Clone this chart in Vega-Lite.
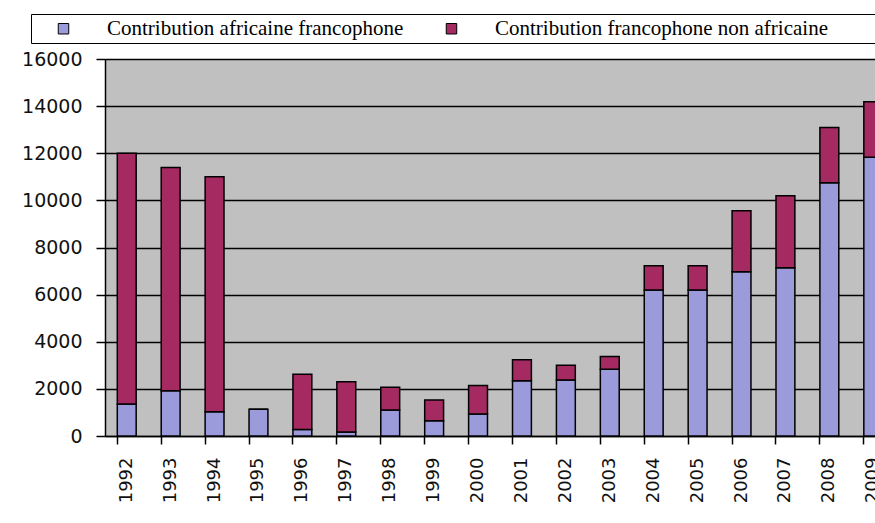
{
  "$schema": "https://vega.github.io/schema/vega-lite/v6.json",
  "width": 790,
  "height": 377,
  "autosize": {"type": "none"},
  "padding": {"left": 105, "top": 59, "right": -20, "bottom": 87},
  "background": "white",
  "config": {
    "view": {"fill": "#c0c0c0", "stroke": "#888888", "strokeWidth": 1}
  },
  "data": {
    "values": [
      {"year": "1992", "series": "Contribution africaine francophone", "ord": 1, "value": 1360},
      {"year": "1992", "series": "Contribution francophone non africaine", "ord": 2, "value": 10640},
      {"year": "1993", "series": "Contribution africaine francophone", "ord": 1, "value": 1920},
      {"year": "1993", "series": "Contribution francophone non africaine", "ord": 2, "value": 9480},
      {"year": "1994", "series": "Contribution africaine francophone", "ord": 1, "value": 1030},
      {"year": "1994", "series": "Contribution francophone non africaine", "ord": 2, "value": 9970},
      {"year": "1995", "series": "Contribution africaine francophone", "ord": 1, "value": 1130},
      {"year": "1995", "series": "Contribution francophone non africaine", "ord": 2, "value": 0},
      {"year": "1996", "series": "Contribution africaine francophone", "ord": 1, "value": 280},
      {"year": "1996", "series": "Contribution francophone non africaine", "ord": 2, "value": 2340},
      {"year": "1997", "series": "Contribution africaine francophone", "ord": 1, "value": 170},
      {"year": "1997", "series": "Contribution francophone non africaine", "ord": 2, "value": 2130},
      {"year": "1998", "series": "Contribution africaine francophone", "ord": 1, "value": 1100},
      {"year": "1998", "series": "Contribution francophone non africaine", "ord": 2, "value": 970},
      {"year": "1999", "series": "Contribution africaine francophone", "ord": 1, "value": 650},
      {"year": "1999", "series": "Contribution francophone non africaine", "ord": 2, "value": 880},
      {"year": "2000", "series": "Contribution africaine francophone", "ord": 1, "value": 930},
      {"year": "2000", "series": "Contribution francophone non africaine", "ord": 2, "value": 1210},
      {"year": "2001", "series": "Contribution africaine francophone", "ord": 1, "value": 2350},
      {"year": "2001", "series": "Contribution francophone non africaine", "ord": 2, "value": 890},
      {"year": "2002", "series": "Contribution africaine francophone", "ord": 1, "value": 2380},
      {"year": "2002", "series": "Contribution francophone non africaine", "ord": 2, "value": 620},
      {"year": "2003", "series": "Contribution africaine francophone", "ord": 1, "value": 2830},
      {"year": "2003", "series": "Contribution francophone non africaine", "ord": 2, "value": 540},
      {"year": "2004", "series": "Contribution africaine francophone", "ord": 1, "value": 6200},
      {"year": "2004", "series": "Contribution francophone non africaine", "ord": 2, "value": 1030},
      {"year": "2005", "series": "Contribution africaine francophone", "ord": 1, "value": 6200},
      {"year": "2005", "series": "Contribution francophone non africaine", "ord": 2, "value": 1030},
      {"year": "2006", "series": "Contribution africaine francophone", "ord": 1, "value": 6970},
      {"year": "2006", "series": "Contribution francophone non africaine", "ord": 2, "value": 2590},
      {"year": "2007", "series": "Contribution africaine francophone", "ord": 1, "value": 7140},
      {"year": "2007", "series": "Contribution francophone non africaine", "ord": 2, "value": 3060},
      {"year": "2008", "series": "Contribution africaine francophone", "ord": 1, "value": 10750},
      {"year": "2008", "series": "Contribution francophone non africaine", "ord": 2, "value": 2340},
      {"year": "2009", "series": "Contribution africaine francophone", "ord": 1, "value": 11830},
      {"year": "2009", "series": "Contribution francophone non africaine", "ord": 2, "value": 2360}
    ]
  },
  "mark": {"type": "bar", "stroke": "black", "strokeWidth": 1.5},
  "encoding": {
    "x": {
      "field": "year",
      "type": "ordinal",
      "scale": {"paddingInner": 0.57, "paddingOuter": 0.28},
      "axis": {
        "title": null,
        "orient": "bottom",
        "bandPosition": 0,
        "labelAngle": -90,
        "labelAlign": "right",
        "labelBaseline": "middle",
        "labelFont": "DejaVu Sans",
        "labelFontSize": 18,
        "labelColor": "#111111",
        "labelPadding": 13,
        "ticks": true,
        "tickSize": 8,
        "tickColor": "black",
        "tickWidth": 1.5,
        "domainColor": "black",
        "domainWidth": 1.5,
        "grid": false
      }
    },
    "y": {
      "field": "value",
      "type": "quantitative",
      "stack": "zero",
      "scale": {"domain": [0, 16000], "nice": false},
      "axis": {
        "title": null,
        "values": [0, 2000, 4000, 6000, 8000, 10000, 12000, 14000, 16000],
        "format": "d",
        "labelFont": "DejaVu Sans",
        "labelFontSize": 19,
        "labelColor": "#111111",
        "labelPadding": 14,
        "tickSize": 9,
        "tickColor": "black",
        "tickWidth": 1.5,
        "domainColor": "black",
        "domainWidth": 1.5,
        "grid": true,
        "gridColor": "black",
        "gridWidth": 1.5
      }
    },
    "color": {
      "field": "series",
      "type": "nominal",
      "scale": {
        "domain": ["Contribution africaine francophone", "Contribution francophone non africaine"],
        "range": ["#9b9bdc", "#a52a62"]
      },
      "legend": {
        "orient": "none",
        "legendX": -74,
        "legendY": -45,
        "direction": "horizontal",
        "title": "\u00a0",
        "titleOrient": "right",
        "titlePadding": 95,
        "titleFontSize": 10,
        "symbolType": "square",
        "symbolSize": 110,
        "symbolStrokeColor": "black",
        "symbolStrokeWidth": 1,
        "symbolOffset": 18,
        "labelFont": "Liberation Serif",
        "labelFontSize": 21,
        "labelColor": "black",
        "labelOffset": 33,
        "labelLimit": 450,
        "columnPadding": 19,
        "strokeColor": "black",
        "fillColor": "white",
        "padding": 4
      }
    },
    "order": {"field": "ord", "type": "quantitative"}
  }
}
